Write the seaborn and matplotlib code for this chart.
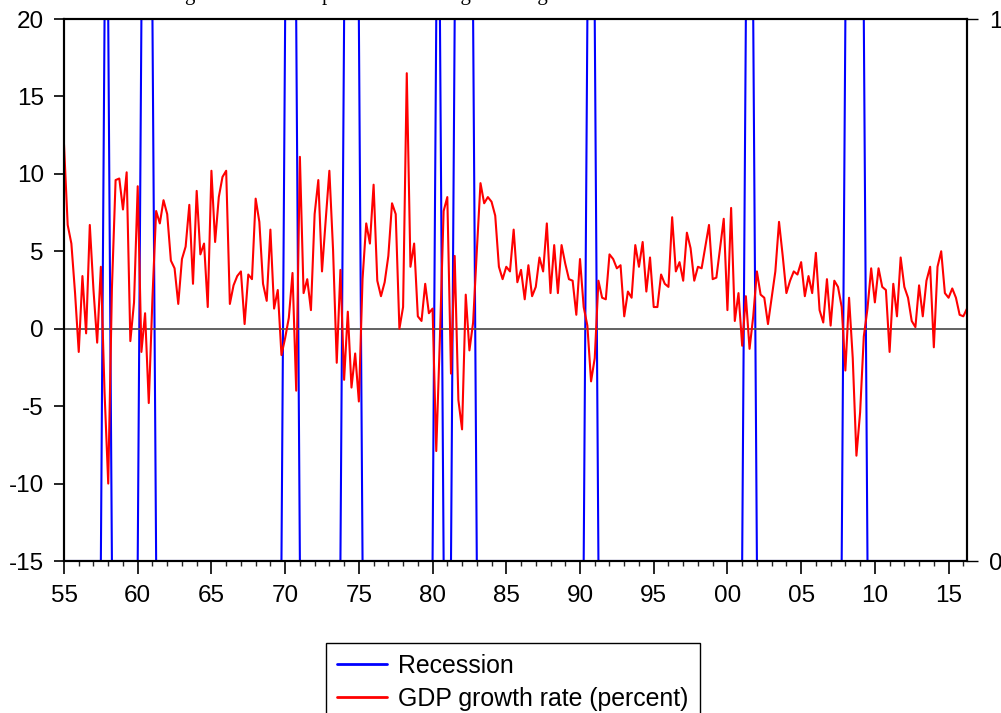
import matplotlib
matplotlib.use("Agg")
import matplotlib.pyplot as plt
import numpy as np
import pandas as pd
import seaborn as sns
from matplotlib.ticker import FixedLocator, MultipleLocator

# quarterly real GDP growth, annualised percent, 1955Q1 onwards
gdp_growth = [
    11.9, 6.7, 5.5, 2.3, -1.5, 3.4, -0.3, 6.7, 2.5, -0.9,
    4.0, -4.1, -10.0, 2.6, 9.6, 9.7, 7.7, 10.1, -0.8, 1.7,
    9.2, -1.5, 1.0, -4.8, 2.0, 7.6, 6.8, 8.3, 7.4, 4.4,
    3.9, 1.6, 4.5, 5.3, 8.0, 2.9, 8.9, 4.8, 5.5, 1.4,
    10.2, 5.6, 8.5, 9.8, 10.2, 1.6, 2.8, 3.4, 3.7, 0.3,
    3.5, 3.2, 8.4, 6.9, 2.9, 1.8, 6.4, 1.3, 2.5, -1.7,
    -0.6, 0.7, 3.6, -4.0, 11.1, 2.3, 3.2, 1.2, 7.4, 9.6,
    3.7, 7.0, 10.2, 5.1, -2.2, 3.8, -3.3, 1.1, -3.8, -1.6,
    -4.7, 3.2, 6.8, 5.5, 9.3, 3.1, 2.1, 3.0, 4.7, 8.1,
    7.4, 0.0, 1.4, 16.5, 4.0, 5.5, 0.8, 0.5, 2.9, 1.0,
    1.3, -7.9, -0.5, 7.6, 8.5, -2.9, 4.7, -4.6, -6.5, 2.2,
    -1.4, 0.4, 5.0, 9.4, 8.1, 8.5, 8.2, 7.3, 4.0, 3.2,
    4.0, 3.7, 6.4, 3.0, 3.8, 1.9, 4.1, 2.1, 2.7, 4.6,
    3.7, 6.8, 2.3, 5.4, 2.3, 5.4, 4.2, 3.2, 3.1, 0.9,
    4.5, 1.4, 0.2, -3.4, -1.9, 3.1, 2.0, 1.9, 4.8, 4.5,
    3.9, 4.1, 0.8, 2.4, 2.0, 5.4, 4.0, 5.6, 2.4, 4.6,
    1.4, 1.4, 3.5, 2.9, 2.7, 7.2, 3.7, 4.3, 3.1, 6.2,
    5.2, 3.1, 4.0, 3.9, 5.3, 6.7, 3.2, 3.3, 5.2, 7.1,
    1.2, 7.8, 0.5, 2.3, -1.1, 2.1, -1.3, 0.8, 3.7, 2.2,
    2.0, 0.3, 2.0, 3.7, 6.9, 4.7, 2.3, 3.1, 3.7, 3.5,
    4.3, 2.1, 3.4, 2.3, 4.9, 1.2, 0.4, 3.2, 0.2, 3.1,
    2.7, 1.4, -2.7, 2.0, -1.9, -8.2, -5.4, -0.5, 1.3, 3.9,
    1.7, 3.9, 2.7, 2.5, -1.5, 2.9, 0.8, 4.6, 2.7, 2.0,
    0.5, 0.1, 2.8, 0.8, 3.1, 4.0, -1.2, 4.0, 5.0, 2.3,
    2.0, 2.6, 2.0, 0.9, 0.8, 1.3,
]

# recession quarters (first and last quarter with indicator = 1)
rec_start = ["1957Q4", "1960Q2", "1970Q1", "1974Q1", "1980Q2",
             "1981Q3", "1990Q3", "2001Q2", "2008Q1"]
rec_end = ["1958Q1", "1961Q1", "1970Q4", "1975Q1", "1980Q3",
           "1982Q4", "1991Q1", "2001Q4", "2009Q2"]

major_years = [1955, 1960, 1965, 1970, 1975, 1980, 1985,
               1990, 1995, 2000, 2005, 2010, 2015]
year_labels = ["55", "60", "65", "70", "75", "80", "85",
               "90", "95", "00", "05", "10", "15"]
left_ticks = [-15, -10, -5, 0, 5, 10, 15, 20]

quarters = pd.period_range("1955Q1", periods=len(gdp_growth), freq="Q")
recession = np.zeros(len(quarters))
for s, e in zip(rec_start, rec_end):
    recession[(quarters >= pd.Period(s, "Q")) & (quarters <= pd.Period(e, "Q"))] = 1

df = pd.DataFrame({
    "date": quarters.year + (quarters.quarter - 1) / 4,
    "gdp": gdp_growth,
    "rec": recession,
})

sns.set_theme(style="white")
plt.rcParams["font.family"] = ["Liberation Sans", "DejaVu Sans"]
plt.rcParams["text.color"] = "black"

fs = 17.5
fig = plt.figure(figsize=(10.01, 7.13), dpi=100)
ax = fig.add_axes([64 / 1001, 1 - 561 / 713, 903 / 1001, 542 / 713])
ax2 = ax.twinx()

sns.lineplot(data=df, x="date", y="rec", ax=ax2, color="#0000FF",
             linewidth=1.5, legend=False)
rec_line = ax2.lines[-1]
sns.lineplot(data=df, x="date", y="gdp", ax=ax, color="#FF0000",
             linewidth=1.5, legend=False)
gdp_line = ax.lines[-1]
ax.axhline(0, color="#555555", linewidth=1.3, zorder=1)

ax.set_zorder(ax2.get_zorder() + 1)
ax.patch.set_visible(False)

ax.set_xlim(df["date"].iloc[0], df["date"].iloc[-1])
ax.set_ylim(-15, 20)
ax2.set_ylim(0, 1)

ax.yaxis.set_major_locator(FixedLocator(left_ticks))
ax.set_yticklabels([str(v) for v in left_ticks])
ax.xaxis.set_major_locator(FixedLocator(major_years))
ax.set_xticklabels(year_labels)
ax.xaxis.set_minor_locator(MultipleLocator(1))
ax2.set_yticks([0, 1])
ax2.set_yticklabels(["0", "1"])

for a in (ax, ax2):
    a.set_xlabel("")
    a.set_ylabel("")
    for sp in a.spines.values():
        sp.set_color("black")
        sp.set_linewidth(1.5)

ax.tick_params(axis="y", which="major", left=True, direction="out",
               length=7.5, width=1.2, pad=7, labelsize=fs, colors="black")
ax.tick_params(axis="x", which="major", bottom=True, direction="out",
               length=9.5, width=1.2, pad=8, labelsize=fs, colors="black")
ax.tick_params(axis="x", which="minor", bottom=True, direction="out",
               length=3.8, width=1.0)
ax2.tick_params(axis="y", which="major", right=True, direction="out",
                length=7.8, width=1.0, pad=8, labelsize=fs, colors="black")

# title sits above the top edge, only its descenders show (as in the source)
fig.text(95 / 1001, 1.0, "Real GDP growth rate compared with timing and length of recessions",
         family=["Liberation Serif", "DejaVu Serif"], fontsize=15,
         va="baseline", ha="left", color="black")

fig.legend([rec_line, gdp_line], ["Recession", "GDP growth rate (percent)"],
           loc="upper left", bbox_to_anchor=(326 / 1001, 1 - 643 / 713),
           fontsize=17.9, frameon=True, fancybox=False, edgecolor="black",
           framealpha=1, handlelength=2.0, handletextpad=0.45,
           borderpad=0.45, labelspacing=0.35, borderaxespad=0)
leg = fig.legends[0]
leg.get_frame().set_linewidth(1.0)
for t in leg.get_texts():
    t.set_color("black")
for h in leg.legend_handles:
    h.set_linewidth(2.0)

fig.savefig("out.png", dpi=100)
